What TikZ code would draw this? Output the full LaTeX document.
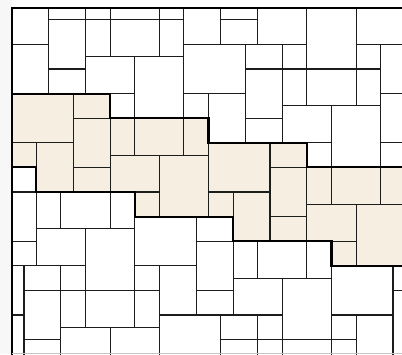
\documentclass[tikz,border=0pt]{standalone}
\definecolor{beige}{RGB}{247,238,226}
\definecolor{ink}{RGB}{28,28,28}
\begin{document}
\begin{tikzpicture}[x=12.3pt,y=-12.3pt,
  tile/.style={draw=ink,line width=1.1pt},
  bandtile/.style={tile,fill=beige},
  bandline/.style={draw=black,line width=2.1pt,line join=miter},
  frameline/.style={draw=black,line width=2pt}]
\useasboundingbox (-0.9512,-0.6098) rectangle (31.7317,28.1707);
\clip (-0.9512,-0.6098) rectangle (31.7317,28.1707);
\fill[white] (-0.9512,-0.6098) rectangle (31.7317,28.1707);
\fill[gray!6] (-0.9512,-0.6098) rectangle (0,28.1707);
% beige band tiles
\foreach \a/\b/\c/\d in {0/7/5/11, 5/7/8/9, 5/9/8/13, 0/11/2/13, 2/11/5/15, 5/13/8/15,
  8/9/10/12, 10/9/14/12, 14/9/16/12, 8/12/12/15, 10/15/12/17, 12/12/16/17,
  16/11/21/15, 21/11/24/13, 21/13/24/17, 16/15/18/17, 18/15/21/19, 21/17/24/19,
  24/13/26/16, 26/13/30/16, 30/13/33/16, 24/16/28/19, 26/19/28/21, 28/16/33/21}
  \draw[bandtile] (\a,\b) rectangle (\c,\d);
% white tiles, upper part
\foreach \a/\b/\c/\d in {0/0/3/3, 0/3/3/7, 3/0/6/1, 3/1/6/5, 3/5/6/7, 6/0/8/1, 6/1/8/4,
  8/0/12/1, 8/1/12/4, 12/0/14/1, 12/1/14/4, 6/4/10/7, 8/7/10/9, 10/4/14/9,
  14/0/17/3, 17/0/20/1, 17/1/20/3, 20/0/24/3, 24/0/28/5, 28/0/33/3,
  14/3/19/7, 14/7/16/9, 16/7/19/11, 19/3/22/5, 22/3/24/5, 19/5/22/9, 19/9/22/11,
  22/5/24/8, 24/5/28/8, 28/3/30/5, 28/5/30/8, 30/3/33/7, 30/7/35/11,
  22/8/26/11, 24/11/26/13, 26/8/30/13, 30/11/33/13}
  \draw[tile] (\a,\b) rectangle (\c,\d);
% white tiles, lower part
\foreach \a/\b/\c/\d in {0/13/2/15, 0/15/2/19, 0/19/2/21, 2/15/4/18, 4/15/8/18, 8/15/10/18,
  2/18/6/21, 6/18/10/23, 10/17/15/21, 15/17/18/19, 15/19/18/23, 15/23/18/25,
  18/19/20/22, 20/19/24/22, 24/19/26/22, 18/22/22/25, 22/22/26/27,
  26/21/31/25, 31/21/33/23, 31/23/33/29, 26/25/28/27, 26/27/28/29, 28/25/31/29,
  0/21/1/25, 0/25/1/29, 1/21/4/23, 4/21/6/23, 1/23/4/27, 1/27/4/29,
  4/23/6/26, 6/23/10/26, 10/21/12/23, 10/23/12/26, 12/21/15/25,
  4/26/8/29, 8/26/12/29, 12/25/17/29, 17/25/20/27, 17/27/20/29,
  20/25/22/27, 20/27/22/29, 22/27/26/29}
  \draw[tile] (\a,\b) rectangle (\c,\d);
% outline of the band
\draw[bandline] (0,7) -- (8,7) -- (8,9) -- (16,9) -- (16,11) -- (24,11) -- (24,13) -- (33,13);
\draw[bandline] (0,13) -- (2,13) -- (2,15) -- (10,15) -- (10,17) -- (18,17) -- (18,19) -- (26,19) -- (26,21) -- (33,21);
% frame
\draw[frameline] (0,28.3) -- (0,0) -- (33,0);
\draw[gray!45,line width=0.8pt] (0,28.09) -- (33,28.09);
\end{tikzpicture}
\end{document}
